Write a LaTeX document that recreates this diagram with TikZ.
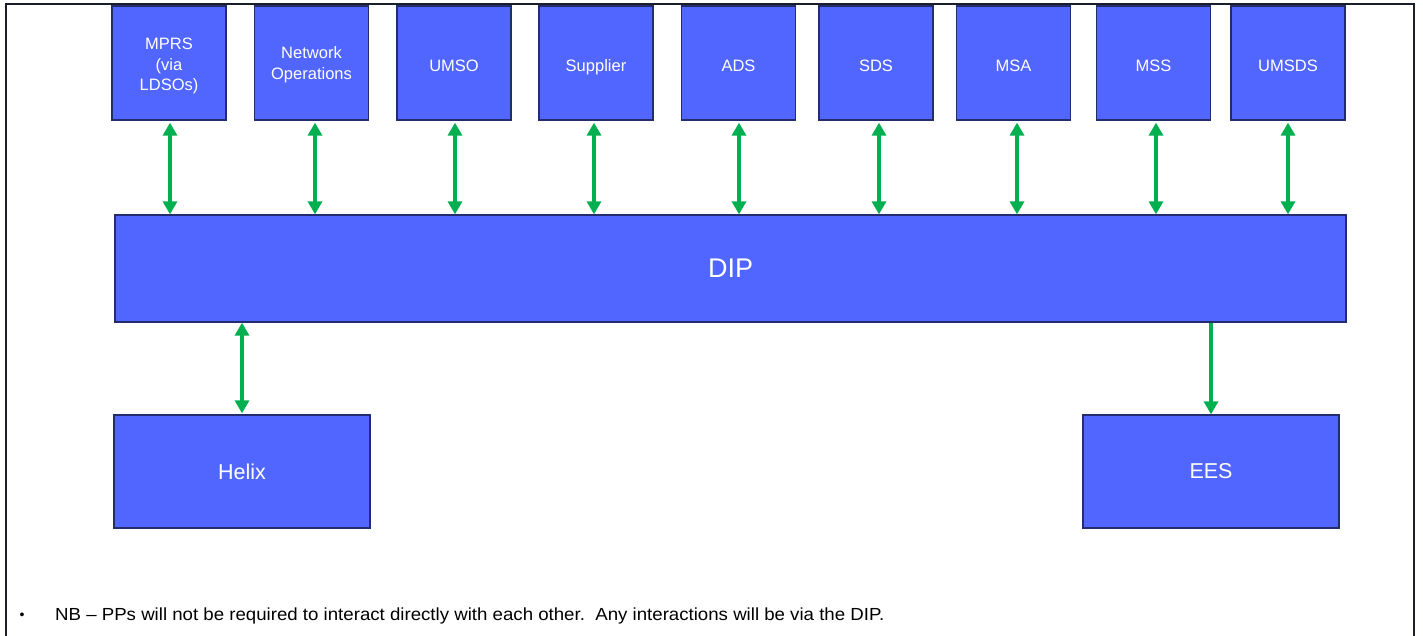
\documentclass[tikz,border=0pt]{standalone}
\usepackage{fontspec}
\setmainfont{Liberation Sans}
\usetikzlibrary{arrows.meta}
\definecolor{boxfill}{RGB}{81,101,255}
\definecolor{boxline}{RGB}{35,45,110}
\definecolor{arrgreen}{RGB}{0,176,80}
\definecolor{framecol}{RGB}{25,30,45}
\tikzset{
  box/.style={draw=boxline, fill=boxfill, line width=1.3pt, inner sep=0pt,
    align=center, text=white, font=\fontsize{16.5}{20.5}\selectfont},
  topbox/.style={box, minimum width=114pt, minimum height=114pt},
  lab/.style={text=white, align=center, inner sep=0pt, font=\fontsize{16.5}{20.5}\selectfont},
  link/.style={draw=arrgreen, line width=3.8pt},
  both/.style={link, {Triangle[width=14pt,length=13pt]}-{Triangle[width=14pt,length=13pt]}},
  one/.style={link, -{Triangle[width=14pt,length=13pt]}},
  frameline/.style={draw=framecol, line width=1.6pt}
}
\begin{document}
\begin{tikzpicture}[x=1pt,y=-1pt]
\useasboundingbox (0,0) rectangle (1423,636);
\draw[frameline] (6,640) -- (6,4) -- (1414,4) -- (1414,640);

\node[topbox, label={[lab, yshift=-3pt]center:{MPRS\\(via\\LDSOs)}}] (mprs) at (169,63) {};
\node[topbox, label={[lab, yshift=-1.5pt]center:{Network\\Operations}}] (net) at (311.5,63) {};
\node[topbox, label={[lab, yshift=-2.5pt]center:UMSO}] (umso) at (454,63) {};
\node[topbox, label={[lab, yshift=-2.5pt, text depth=0pt]center:Supplier}] (sup) at (596,63) {};
\node[topbox, label={[lab, yshift=-2.5pt]center:ADS}] (ads) at (738.5,63) {};
\node[topbox, label={[lab, yshift=-2.5pt]center:SDS}] (sds) at (876,63) {};
\node[topbox, label={[lab, yshift=-2.5pt]center:MSA}] (msa) at (1013.5,63) {};
\node[topbox, label={[lab, yshift=-2.5pt]center:MSS}] (mss) at (1153.5,63) {};
\node[topbox, label={[lab, yshift=-2.5pt]center:UMSDS}] (umsds) at (1288,63) {};

\node[box, minimum width=1231pt, minimum height=107pt, font=\fontsize{27}{32}\selectfont] (dip) at (730.5,268.5) {DIP};
\node[box, minimum width=256pt, minimum height=113pt, font=\fontsize{21.5}{25}\selectfont] (helix) at (242,471.5) {Helix};
\node[box, minimum width=256pt, minimum height=113pt, font=\fontsize{21.5}{25}\selectfont] (ees) at (1211,471.5) {EES};

\foreach \n/\dx in {mprs/1, net/3.5, umso/1, sup/-2, ads/0.5, sds/3, msa/3.5, mss/2.5, umsds/0}{
  \draw[both] ([xshift=\dx pt, yshift=-2pt]\n.south) -- ([xshift=\dx pt]\n.south |- dip.north);
}
\draw[both] (helix.north |- dip.south) -- ([yshift=1pt]helix.north);
\draw[one] (ees.north |- dip.south) -- (ees.north);

\node[anchor=base, font=\fontsize{14}{16}\selectfont, inner sep=0pt] (bul) at (22,619) {•};
\node[anchor=base west, inner sep=0pt, xscale=1.066, transform shape, font=\fontsize{17.5}{20}\selectfont] (note) at (55,620) {NB – PPs will not be required to interact directly with each other.\ \ Any interactions will be via the DIP.};
\end{tikzpicture}
\end{document}
